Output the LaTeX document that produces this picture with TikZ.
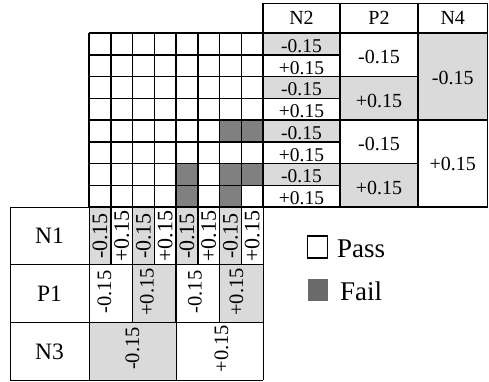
\documentclass[tikz,border=0pt]{standalone}
\usepackage{fontspec}
\setmainfont{Liberation Serif}
\definecolor{lightg}{HTML}{DADADA}
\definecolor{failg}{HTML}{808080}
\definecolor{legg}{HTML}{6A6A6A}
\begin{document}
\begin{tikzpicture}[x=1pt,y=-1pt,
  gl/.style={line width=1.5pt,black},
  tl/.style={line width=1pt,black},
  kl/.style={line width=2.5pt,black},
  txt/.style={inner sep=0pt,outer sep=0pt},
  fhead/.style={txt,font=\fontsize{20}{24}\selectfont},
  fcell/.style={txt,font=\fontsize{19.5}{23}\selectfont},
  fbig/.style={txt,font=\fontsize{20}{24}\selectfont},
  flab/.style={txt,font=\fontsize{23.5}{28}\selectfont},
  frot/.style={txt,rotate=90,font=\fontsize{22}{26}\selectfont},
  frotb/.style={txt,rotate=90,font=\fontsize{20.5}{24}\selectfont},
  fleg/.style={txt,anchor=base west,font=\fontsize{27}{32}\selectfont}]
\useasboundingbox (0,0) rectangle (489,381);
% ---------- fills ----------
% fail cells in grid
\foreach \c/\r in {7/5,8/5,5/7,7/7,8/7,5/8,7/8}
  \fill[failg] (89+21.75*\c-21.75,33+21.75*\r-21.75) rectangle ++(21.75,21.75);
% N2 column gray rows
\foreach \r in {1,3,5,7}
  \fill[lightg] (263,33+21.75*\r-21.75) rectangle (340,33+21.75*\r);
% P2 gray
\fill[lightg] (340,76.5) rectangle (418,120);
\fill[lightg] (340,163.5) rectangle (418,207);
% N4 gray
\fill[lightg] (418,33) rectangle (487.5,120);
% N1 row gray
\foreach \c in {1,3,5,7}
  \fill[lightg] (89+21.75*\c-21.75,207) rectangle ++(21.75,57);
% P1 row gray
\fill[lightg] (132.5,264) rectangle (176,322);
\fill[lightg] (219.5,264) rectangle (263,322);
% N3 gray
\fill[lightg] (89,322) rectangle (176,380);
% ---------- grid lines ----------
\foreach \i in {0,...,8} {
  \draw[gl] (89+21.75*\i,33) -- (89+21.75*\i,207);
  \draw[gl] (89,33+21.75*\i) -- (263,33+21.75*\i);
}
% ---------- top-right table ----------
\draw[tl] (263,3) -- (487.5,3);
\draw[gl] (263,33) -- (487.5,33);
\draw[gl] (263,207) -- (487.5,207);
\foreach \i in {1,...,7}
  \draw[gl] (263,33+21.75*\i) -- (340,33+21.75*\i);
\foreach \y in {76.5,120,163.5}
  \draw[gl] (340,\y) -- (418,\y);
\draw[gl] (418,120) -- (487.5,120);
\draw[gl] (263,3) -- (263,207);
\draw[kl] (340,3) -- (340,207);
\draw[kl] (418,3) -- (418,207);
\draw[tl] (487.5,3) -- (487.5,207);
% ---------- bottom-left table ----------
\draw[tl] (10,207) -- (89,207);
\foreach \y in {264,322,380}
  \draw[tl] (10,\y) -- (263,\y);
\draw[tl] (10,207) -- (10,380);
\draw[tl] (89,207) -- (89,380);
\draw[tl] (263,207) -- (263,380);
\foreach \i in {1,...,7}
  \draw[gl] (89+21.75*\i,207) -- (89+21.75*\i,264);
\foreach \x in {132.5,176,219.5}
  \draw[gl] (\x,264) -- (\x,322);
\draw[tl] (176,322) -- (176,380);
% ---------- header texts ----------
\node[fhead] (hN2) at (301.5,18) {N2};
\node[fhead] (hP2) at (379,18) {P2};
\node[fhead] (hN4) at (452.75,18) {N4};
% N2 cells
\foreach \r in {1,3,5,7}
  \node[fcell,anchor=base] (n2m\r) at (301.5,33+21.75*\r-2.3) {-0.15};
\foreach \r in {2,4,6,8}
  \node[fcell,anchor=base] (n2p\r) at (301.5,33+21.75*\r-2.3) {+0.15};
% P2 cells
\node[fbig] (p2a) at (379,57) {-0.15};
\node[fbig] (p2b) at (379,100.5) {+0.15};
\node[fbig] (p2c) at (379,144) {-0.15};
\node[fbig] (p2d) at (379,187.5) {+0.15};
% N4 cells
\node[fbig] (n4a) at (452.75,78) {-0.15};
\node[fbig] (n4b) at (452.75,164) {+0.15};
% ---------- left labels ----------
\node[flab] (lN1) at (49.5,236) {N1};
\node[flab] (lP1) at (49.5,293.5) {P1};
\node[flab] (lN3) at (49.5,351.5) {N3};
% N1 row
\foreach \c in {1,3,5,7}
  \node[frot] (n1m\c) at (89+21.75*\c-10.875,236) {-0.15};
\foreach \c in {2,4,6,8}
  \node[frot] (n1p\c) at (89+21.75*\c-10.875,236) {+0.15};
% P1 row
\node[frotb] (p1a) at (104.5,292) {-0.15};
\node[frotb] (p1b) at (147,292) {+0.15};
\node[frotb] (p1c) at (195,292) {-0.15};
\node[frotb] (p1d) at (236.5,292) {+0.15};
% N3 row
\node[frotb] (n3a) at (132.5,348.5) {-0.15};
\node[frotb] (n3b) at (221.5,348.5) {+0.15};
% ---------- legend ----------
\node[draw,line width=1.5pt,fill=white,minimum width=20pt,minimum height=22pt,inner sep=0pt] (passbox) at (317.5,247) {};
\node[fill=legg,minimum width=20pt,minimum height=22pt,inner sep=0pt] (failbox) at (317.5,290) {};
\node[fleg] (passtxt) at (337,257) {Pass};
\node[fleg] (failtxt) at (340,300.5) {Fail};
\end{tikzpicture}
\end{document}
